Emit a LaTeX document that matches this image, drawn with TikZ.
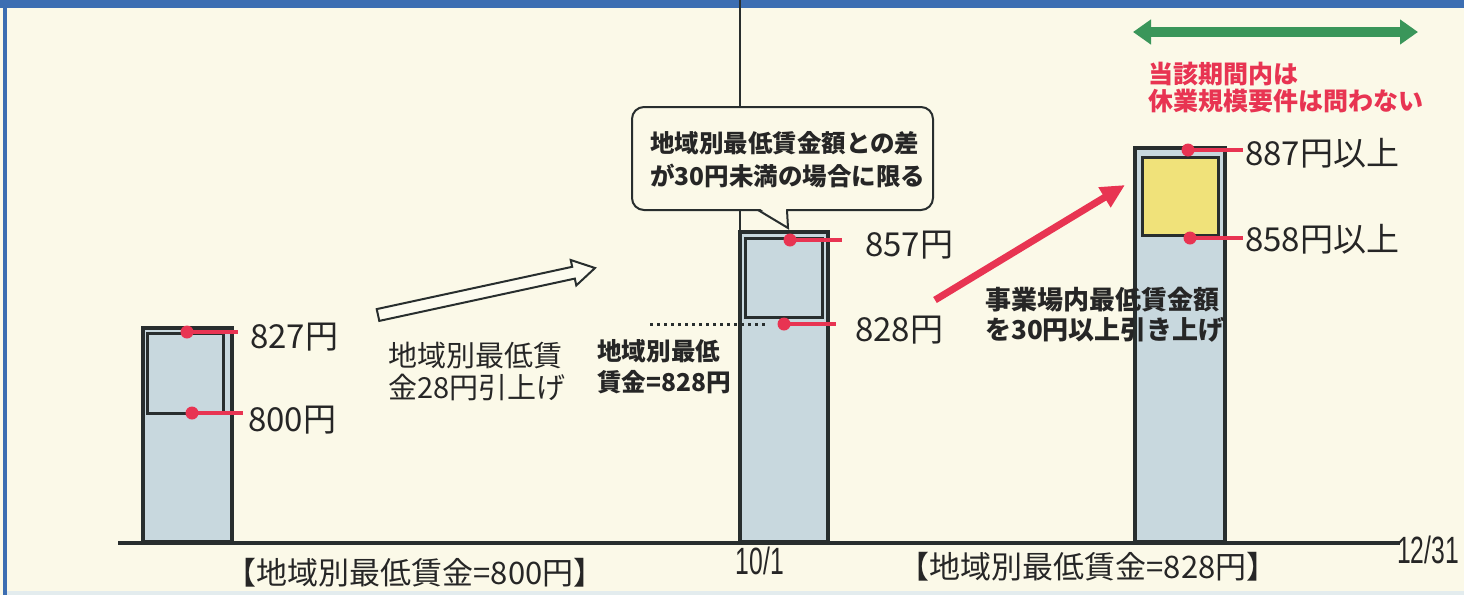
\documentclass[tikz,border=0pt]{standalone}
\usepackage{fontspec}
\setmainfont{Noto Sans CJK JP}
\newfontfamily\narrowfont{Liberation Sans}[FakeStretch=0.65]
\usetikzlibrary{arrows.meta}
\definecolor{paper}{RGB}{251,249,232}
\definecolor{bandblue}{RGB}{60,110,178}
\definecolor{barfill}{RGB}{200,216,222}
\definecolor{baryellow}{RGB}{240,226,122}
\definecolor{outline}{RGB}{40,46,46}
\definecolor{redmark}{RGB}{232,52,82}
\definecolor{greenarrow}{RGB}{58,150,90}
\definecolor{txt}{RGB}{38,38,38}
\tikzset{
  barout/.style={draw=outline, line width=4pt, fill=barfill},
  barin/.style={draw=outline, line width=3pt},
  tickline/.style={draw=redmark, line width=3.5pt},
  reddot/.style={circle, fill=redmark, inner sep=0pt, minimum size=13pt},
  val/.style={anchor=west, font=\fontsize{33}{36}\selectfont, text=txt, inner sep=0pt},
  lbl/.style={anchor=west, align=left, text=txt, inner sep=0pt},
  datelbl/.style={font=\narrowfont\fontsize{38}{40}\selectfont, text=txt, inner sep=0pt},
  thinline/.style={draw=outline, line width=2pt}
}
\begin{document}
\begin{tikzpicture}[x=1pt,y=-1pt]
\useasboundingbox (0,0) rectangle (1464,595);
\fill[paper] (0,0) rectangle (1464,595);
% frame
\fill[bandblue] (0,0) rectangle (1464,8);
\fill[bandblue] (3,0) rectangle (7,595);
\fill[barfill!50] (7,591) rectangle (1464,595);

% date line at 10/1
\coordinate (vtop) at (740,0);
\coordinate (vbot) at (740,542);
\draw[thinline] (vtop) -- (vbot);

% callout
\draw[thinline, fill=paper, rounded corners=12pt] (632,107) rectangle (933,210);
\coordinate (pa) at (758,210);
\coordinate (pt) at (788,228);
\coordinate (pb) at (787,210);
\fill[paper] (759,208) -- (786,208) -- (pt) -- cycle;
\draw[thinline] (pa) -- (pt) -- (pb);
\node[lbl, font=\bfseries\fontsize{24.5}{33}\selectfont] (ctext) at (650,160) {地域別最低賃金額との差\\が30円未満の場合に限る};

% bar 1
\draw[barout] (143,328) rectangle (232,542);
\draw[barin] (147,333) rectangle (223,413);
% bar 2
\draw[barout] (740,232) rectangle (828,542);
\draw[barin] (745,238) rectangle (822,317);
% bar 3
\draw[barout] (1135,148) rectangle (1225,542);
\draw[barin, fill=baryellow] (1142,157) rectangle (1218,235);

% baseline
\coordinate (bl) at (118,543);
\coordinate (br) at (1400,543);
\draw[outline, line width=4pt] (bl) -- (br);

% dotted level line
\coordinate (dl) at (650,324);
\coordinate (dr) at (768,324);
\draw[outline, line width=3pt, dash pattern=on 3pt off 4pt] (dl) -- (dr);

% red markers
\coordinate (e827) at (238,332);
\coordinate (e800) at (243,413);
\coordinate (e857) at (842,240);
\coordinate (e828) at (836,324);
\coordinate (e887) at (1243,150);
\coordinate (e858) at (1243,238);
\coordinate (p827) at (187,332);
\coordinate (p800) at (192,413);
\coordinate (p857) at (790,240);
\coordinate (p828) at (784,324);
\coordinate (p887) at (1188,150);
\coordinate (p858) at (1190,238);
\draw[tickline] (p827) -- (e827);
\draw[tickline] (p800) -- (e800);
\draw[tickline] (p857) -- (e857);
\draw[tickline] (p828) -- (e828);
\draw[tickline] (p887) -- (e887);
\draw[tickline] (p858) -- (e858);
\node[reddot] (d827) at (p827) {};
\node[reddot] (d800) at (p800) {};
\node[reddot] (d857) at (p857) {};
\node[reddot] (d828) at (p828) {};
\node[reddot] (d887) at (p887) {};
\node[reddot] (d858) at (p858) {};

% values
\node[val] (t827) at (250,337) {827円};
\node[val] (t800) at (248,420) {800円};
\node[val] (t857) at (865,245) {857円};
\node[val] (t828) at (855,330) {828円};
\node[val] (t887) at (1245,153) {887円以上};
\node[val] (t858) at (1245,239) {858円以上};

% hollow arrow
\draw[thinline, fill=paper!70!white, line join=miter]
  (379.3,320.9) -- (574.8,278.6) -- (576.3,285.4) -- (595,268) -- (570.7,260.0) -- (572.2,266.8) -- (376.7,309.1) -- cycle;

% labels
\node[lbl, font=\fontsize{29}{32}\selectfont] (raise) at (388,371) {地域別最低賃\\金28円引上げ};
\node[lbl, font=\bfseries\fontsize{24.6}{31}\selectfont] (newmin) at (597,367) {地域別最低\\賃金=828円};

% red arrow
\coordinate (ra) at (935,300);
\coordinate (rb) at (1125,185);
\draw[redmark, line width=7pt, -{Triangle[length=24pt,width=22pt]}] (ra) -- (rb);
\node[lbl, font=\bfseries\fontsize{26}{30}\selectfont] (inhouse) at (985,315) {事業場内最低賃金額\\を30円以上引き上げ};

% green period arrow
\coordinate (ga) at (1133,32);
\coordinate (gb) at (1418,32);
\draw[greenarrow, line width=10pt, {Triangle[length=18pt,width=24pt]}-{Triangle[length=18pt,width=24pt]}] (ga) -- (gb);
\node[lbl, text=redmark, font=\bfseries\fontsize{25}{27}\selectfont] (period) at (1148,88) {当該期間内は\\休業規模要件は問わない};

% bottom labels
\node[font=\fontsize{31}{34}\selectfont, text=txt, inner sep=0pt] (b800) at (415,573) {【地域別最低賃金=800円】};
\node[font=\fontsize{31}{34}\selectfont, text=txt, inner sep=0pt] (b828) at (1088,567) {【地域別最低賃金=828円】};
\node[datelbl] (d101) at (760,561) {10/1};
\node[datelbl] (d1231) at (1428,550) {12/31};
\end{tikzpicture}
\end{document}
